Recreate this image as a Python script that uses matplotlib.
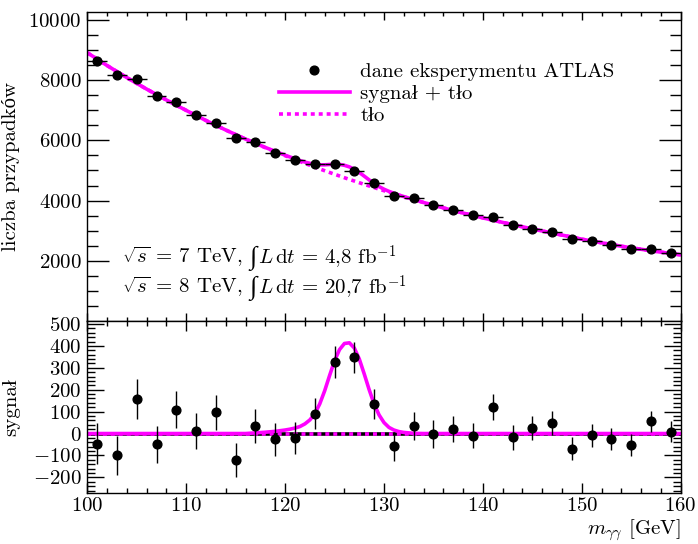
import matplotlib
matplotlib.use("Agg")
import matplotlib.pyplot as plt
import matplotlib.transforms as mtransforms
from matplotlib.ticker import MultipleLocator

plt.rcParams['font.family'] = ['cmr10', 'Liberation Serif', 'DejaVu Serif']
plt.rcParams['mathtext.fontset'] = 'cm'
plt.rcParams['axes.formatter.use_mathtext'] = True
plt.rcParams['font.size'] = 15

# diphoton mass bins (2 GeV wide) and event counts
mass = [101, 103, 105, 107, 109, 111, 113, 115, 117, 119, 121, 123, 125, 127, 129,
        131, 133, 135, 137, 139, 141, 143, 145, 147, 149, 151, 153, 155, 157, 159]
counts = [8635, 8172, 8040, 7455, 7270, 6827, 6586, 6080, 5947, 5594, 5339, 5207, 5207, 4999, 4569,
          4162, 4073, 3851, 3686, 3511, 3468, 3180, 3071, 2972, 2727, 2675, 2529, 2410, 2410, 2255]
errors = [93, 90, 90, 86, 85, 83, 81, 78, 77, 75, 73, 72, 72, 71, 68,
          65, 64, 62, 61, 59, 59, 56, 55, 55, 52, 52, 50, 49, 49, 47]
residual = [-47, -100, 157, -50, 108, 12, 97, -122, 33, -27, -21, 91, 326, 349, 135,
            -59, 33, -2, 21, -9, 122, -18, 24, 49, -70, -8, -24, -52, 55, 8]

# fitted curves
curve_m = [100, 102, 104, 106, 108, 110, 112, 114, 116, 117,
           118, 118.5, 119, 119.5, 120, 120.5, 121, 121.5, 122, 122.5, 123, 123.5, 124, 124.5,
           125, 125.5, 126, 126.5, 127, 127.5, 128, 128.5, 129, 129.5, 130, 130.5, 131, 131.5,
           132, 132.5, 133,
           134, 136, 138, 140, 142, 144, 146, 148, 150, 152, 154, 156, 158, 160]
background = [8900, 8475, 8075, 7695, 7335, 6990, 6655, 6340, 6040, 5897,
              5757, 5690, 5622, 5556, 5490, 5426, 5362, 5298, 5235, 5174, 5113, 5052, 4992, 4934,
              4876, 4818, 4760, 4705, 4650, 4595, 4540, 4487, 4435, 4382, 4330, 4280, 4230, 4180,
              4130, 4082, 4035,
              3940, 3760, 3590, 3430, 3280, 3135, 2995, 2860, 2725, 2605, 2490, 2390, 2295, 2205]
signal = [0, 0, 0, 0, 0, 0, 0, 0, 0, 3,
          6, 8, 10, 13, 16, 20, 25, 32, 44, 62, 90, 135, 195, 265,
          332, 383, 411, 414, 390, 340, 272, 200, 135, 85, 50, 28, 16, 9,
          5, 3, 1,
          0, 0, 0, 0, 0, 0, 0, 0, 0, 0, 0, 0, 0, 0]

lumi_lines = [('7', '4,8'), ('8', '20,7')]

sig_plus_bkg = [b + s for b, s in zip(background, signal)]
zero_line = [0 for _ in curve_m]

magenta = '#ff00ff'
lw = 2.6
dots = (0, (1.1, 1.1))

fig = plt.figure(figsize=(6.98, 5.44), dpi=100)
ax1 = fig.add_axes([0.1251, 0.4105, 0.8501, 0.5675])
ax2 = fig.add_axes([0.1251, 0.0943, 0.8501, 0.3162])
renderer = fig.canvas.get_renderer()


def chained_text(ax, x, y, pieces):
    # draw pieces one after another on a common baseline
    trans = ax.transAxes
    for s, kw, gap in pieces:
        t = ax.text(x, y, s, transform=trans, va='baseline', ha='left', **kw)
        w = t.get_window_extent(renderer).width
        trans = mtransforms.offset_copy(t.get_transform(), x=w + gap, units='dots')


# top panel
ax1.plot(curve_m, background, color=magenta, lw=lw, ls=dots, zorder=2, label='tło')
ax1.plot(curve_m, sig_plus_bkg, color=magenta, lw=lw, zorder=2, label='sygnał + tło')
ax1.errorbar(mass, counts, xerr=1, yerr=errors, fmt='none', ecolor='black', elinewidth=1.0, zorder=3)
ax1.plot(mass, counts, 'o', color='black', ms=6.3, zorder=4, label='dane eksperymentu ATLAS')

ax1.set_xlim(100, 160)
ax1.set_ylim(25, 10250)
ax1.xaxis.set_major_locator(MultipleLocator(10))
ax1.xaxis.set_minor_locator(MultipleLocator(2))
ax1.yaxis.set_major_locator(MultipleLocator(2000))
ax1.yaxis.set_minor_locator(MultipleLocator(500))
ax1.tick_params(which='both', direction='in', top=True, right=True, labelbottom=False, pad=4)
ax1.tick_params(axis='y', which='major', length=15.8, width=1.0)
ax1.tick_params(axis='y', which='minor', length=7.7, width=1.0)
ax1.tick_params(axis='x', which='major', length=5.8, width=1.0)
ax1.tick_params(axis='x', which='minor', length=2.9, width=1.0)
ax1.set_ylabel('liczba przypadków')
ax1.yaxis.set_label_coords(-0.113, 0.5)

handles, labels = ax1.get_legend_handles_labels()
order = [2, 1, 0]
ax1.legend([handles[i] for i in order], [labels[i] for i in order],
           loc='upper left', bbox_to_anchor=(0.323, 0.835), frameon=False,
           borderpad=0, borderaxespad=0, handlelength=3.4, handletextpad=0.5,
           labelspacing=0.16, fontsize=15)

for (energy, lumi), ypos in zip(lumi_lines, [0.185, 0.088]):
    chained_text(ax1, 0.058, ypos, [
        (r'$\sqrt{s}$ = ' + energy + ' TeV,', {}, 7),
        ('∫', {'family': 'Liberation Serif', 'fontsize': 19}, 2),
        (r'$L\,\mathrm{d}t$ = ' + lumi + r' fb$^{-1}$', {}, 0),
    ])

# bottom panel: background-subtracted
ax2.plot(curve_m, zero_line, color='black', lw=lw, zorder=1)
ax2.plot(curve_m, zero_line, color=magenta, lw=lw, ls=dots, zorder=2)
ax2.plot(curve_m, signal, color=magenta, lw=lw, zorder=2)
ax2.errorbar(mass, residual, yerr=errors, fmt='o', color='black', ms=6.3,
             elinewidth=1.0, capsize=0, zorder=3)

ax2.set_xlim(100, 160)
ax2.set_ylim(-270, 515)
ax2.xaxis.set_major_locator(MultipleLocator(10))
ax2.xaxis.set_minor_locator(MultipleLocator(2))
ax2.yaxis.set_major_locator(MultipleLocator(100))
ax2.yaxis.set_minor_locator(MultipleLocator(20))
ax2.tick_params(which='both', direction='in', top=True, right=True, pad=4)
ax2.tick_params(axis='x', pad=3)
ax2.tick_params(axis='y', which='major', length=12.2, width=1.0)
ax2.tick_params(axis='y', which='minor', length=5.8, width=1.0)
ax2.tick_params(axis='x', which='major', length=7.2, width=1.0)
ax2.tick_params(axis='x', which='minor', length=3.6, width=1.0)
ax2.set_ylabel('sygnał')
ax2.yaxis.set_label_coords(-0.113, 0.5)
ax2.set_xlabel(r'$m_{\gamma\gamma}$ [GeV]', loc='right', labelpad=2)

for ax in (ax1, ax2):
    for sp in ax.spines.values():
        sp.set_linewidth(1.0)

fig.savefig('out.png', dpi=100)
